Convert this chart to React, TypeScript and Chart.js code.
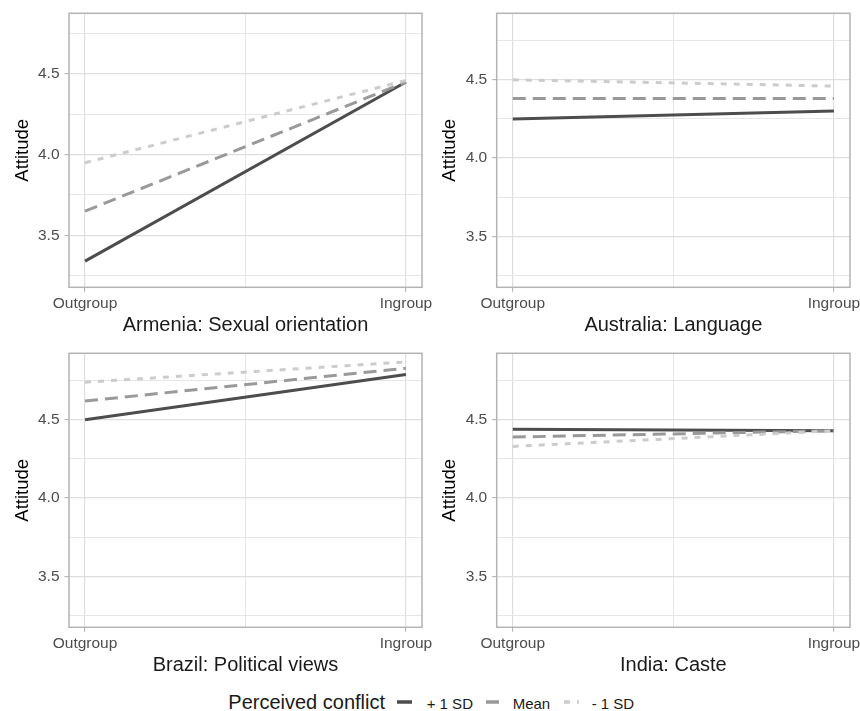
import React, { useEffect, useRef } from "react";
import { Chart, registerables } from "chart.js";

Chart.register(...registerables);

// ---------- data ----------
const categories = ["Outgroup", "Ingroup"];
const categoryPositions = [0, 1];
const seriesNames = ["+ 1 SD", "Mean", "- 1 SD"];
const legendTitle = "Perceived conflict";
const yAxisTitle = "Attitude";

const armeniaHigh = [3.34, 4.45];
const armeniaMean = [3.65, 4.45];
const armeniaLow = [3.95, 4.46];

const australiaHigh = [4.25, 4.3];
const australiaMean = [4.38, 4.38];
const australiaLow = [4.5, 4.46];

const brazilHigh = [4.5, 4.79];
const brazilMean = [4.62, 4.83];
const brazilLow = [4.74, 4.87];

const indiaHigh = [4.44, 4.43];
const indiaMean = [4.39, 4.43];
const indiaLow = [4.33, 4.43];

const yMajorTicks = [3.5, 4.0, 4.5];
const yMinorTicks = [3.25, 3.75, 4.25, 4.75];
const xMinorTicks = [0.5];

const armeniaRange = [3.178, 4.876];
const sharedRange = [3.174, 4.925];
const xRange = [-0.05, 1.05];

// ---------- styles ----------
const FONT = "'Liberation Sans', Arial, sans-serif";
const seriesColors = ["#4D4D4D", "#999999", "#CCCCCC"];
const seriesDashes: number[][] = [[], [13, 7], [6, 7]];
const GRID_MAJOR = "#DEDEDE";
const GRID_MINOR = "#E6E6E6";
const BORDER = "#B3B3B3";
const TICK_TEXT = "#4D4D4D";

Chart.defaults.font.family = FONT;

const panelBorder = {
  id: "panelBorder",
  afterDraw(chart: any) {
    const { ctx, chartArea: a } = chart;
    ctx.save();
    ctx.strokeStyle = BORDER;
    ctx.lineWidth = 1.5;
    ctx.strokeRect(a.left, a.top, a.right - a.left, a.bottom - a.top);
    ctx.restore();
  },
};

type PanelProps = {
  title: string;
  series: number[][];
  yRange: number[];
  left: number;
  top: number;
  width: number;
  height: number;
  areaLeft: number;
  areaRight: number;
  areaTop: number;
  areaBottom: number;
};

function Panel(p: PanelProps) {
  const ref = useRef<HTMLCanvasElement | null>(null);
  useEffect(() => {
    if (!ref.current) return;
    const isMajorY = (v: number) => yMajorTicks.some((t) => Math.abs(t - v) < 1e-9);
    const isMajorX = (v: number) => categoryPositions.some((t) => Math.abs(t - v) < 1e-9);
    const chart = new Chart(ref.current, {
      type: "line",
      data: {
        datasets: p.series.map((vals, i) => ({
          label: seriesNames[i],
          data: vals.map((v, j) => ({ x: categoryPositions[j], y: v })),
          borderColor: seriesColors[i],
          backgroundColor: seriesColors[i],
          borderWidth: 3,
          borderDash: seriesDashes[i],
          borderCapStyle: "butt",
          pointRadius: 0,
          pointHoverRadius: 0,
          fill: false,
          tension: 0,
          order: 3 - i,
        })),
      },
      options: {
        animation: false,
        responsive: false,
        events: [],
        layout: {
          padding: { left: 0, top: p.areaTop, right: p.width - p.areaRight, bottom: 0 },
        },
        plugins: {
          legend: { display: false },
          tooltip: { enabled: false },
          title: { display: false },
        },
        scales: {
          x: {
            type: "linear",
            min: xRange[0],
            max: xRange[1],
            afterBuildTicks: (s: any) => {
              s.ticks = [...categoryPositions, ...xMinorTicks]
                .sort((a, b) => a - b)
                .map((v) => ({ value: v }));
            },
            afterFit: (s: any) => {
              s.height = p.height - p.areaBottom;
              s.paddingLeft = 0;
              s.paddingRight = 0;
            },
            ticks: {
              autoSkip: false,
              maxRotation: 0,
              minRotation: 0,
              padding: 3,
              color: TICK_TEXT,
              font: { size: 15.5 },
              callback: (v: any) => {
                const i = categoryPositions.findIndex((t) => Math.abs(t - Number(v)) < 1e-9);
                return i >= 0 ? categories[i] : "";
              },
            },
            grid: {
              color: (c: any) => (c.tick && isMajorX(c.tick.value) ? GRID_MAJOR : GRID_MINOR),
              lineWidth: (c: any) => (c.tick && isMajorX(c.tick.value) ? 1.2 : 1),
              tickColor: (c: any) => (c.tick && isMajorX(c.tick.value) ? BORDER : "rgba(0,0,0,0)"),
              tickLength: 4.5,
              tickWidth: 1.1,
            },
            border: { display: false },
            title: {
              display: true,
              text: p.title,
              color: "#1A1A1A",
              font: { size: 20 },
              padding: { top: 0, bottom: 2.2 },
            },
          },
          y: {
            type: "linear",
            min: p.yRange[0],
            max: p.yRange[1],
            afterBuildTicks: (s: any) => {
              s.ticks = [...yMajorTicks, ...yMinorTicks]
                .sort((a, b) => a - b)
                .map((v) => ({ value: v }));
            },
            afterFit: (s: any) => {
              s.width = p.areaLeft;
              s.paddingTop = 0;
              s.paddingBottom = 0;
            },
            ticks: {
              autoSkip: false,
              padding: 5,
              color: TICK_TEXT,
              font: { size: 15.5 },
              callback: (v: any) => (isMajorY(Number(v)) ? Number(v).toFixed(1) : ""),
            },
            grid: {
              color: (c: any) => (c.tick && isMajorY(c.tick.value) ? GRID_MAJOR : GRID_MINOR),
              lineWidth: (c: any) => (c.tick && isMajorY(c.tick.value) ? 1.2 : 1),
              tickColor: (c: any) => (c.tick && isMajorY(c.tick.value) ? BORDER : "rgba(0,0,0,0)"),
              tickLength: 4.5,
              tickWidth: 1.1,
            },
            border: { display: false },
            title: {
              display: true,
              text: yAxisTitle,
              color: "#000000",
              font: { size: 18.5 },
              padding: { top: p.areaLeft - 57.6, bottom: 0 },
            },
          },
        },
      },
      plugins: [panelBorder],
    } as any);
    return () => chart.destroy();
  }, []);
  return (
    <canvas
      ref={ref}
      width={p.width}
      height={p.height}
      style={{ position: "absolute", left: p.left, top: p.top, width: p.width, height: p.height }}
    />
  );
}

function LegendKey({ x, color, dash }: { x: number; color: string; dash: number[] }) {
  return (
    <svg
      width={16}
      height={8}
      style={{ position: "absolute", left: x, top: 697.7, overflow: "visible" }}
    >
      <line
        x1={0}
        y1={4}
        x2={15}
        y2={4}
        stroke={color}
        strokeWidth={3.5}
        strokeDasharray={dash.length ? dash.join(" ") : undefined}
      />
    </svg>
  );
}

export default function App() {
  const leftGeom = { width: 460, height: 340, areaLeft: 69, areaRight: 422, areaTop: 13.3, areaBottom: 287.3 };
  const rightGeom = { width: 430, height: 340, areaLeft: 66.7, areaRight: 420, areaTop: 13.3, areaBottom: 287.3 };
  const labelStyle: React.CSSProperties = {
    position: "absolute",
    top: 695.6,
    fontFamily: FONT,
    fontSize: 15,
    lineHeight: "15px",
    color: "#1A1A1A",
    whiteSpace: "nowrap",
  };
  return (
    <div
      style={{
        position: "absolute",
        left: 0,
        top: 0,
        width: 860,
        height: 711,
        background: "#FFFFFF",
        overflow: "hidden",
      }}
    >
      <Panel title="Armenia: Sexual orientation" series={[armeniaHigh, armeniaMean, armeniaLow]} yRange={armeniaRange} left={0} top={0} {...leftGeom} />
      <Panel title="Brazil: Political views" series={[brazilHigh, brazilMean, brazilLow]} yRange={sharedRange} left={0} top={340} {...leftGeom} />
      <Panel title="Australia: Language" series={[australiaHigh, australiaMean, australiaLow]} yRange={sharedRange} left={430} top={0} {...rightGeom} />
      <Panel title="India: Caste" series={[indiaHigh, indiaMean, indiaLow]} yRange={sharedRange} left={430} top={340} {...rightGeom} />

      <div
        style={{
          position: "absolute",
          left: 228.3,
          top: 692.4,
          fontFamily: FONT,
          fontSize: 20,
          lineHeight: "20px",
          color: "#1A1A1A",
          whiteSpace: "nowrap",
        }}
      >
        {legendTitle}
      </div>
      <LegendKey x={397} color={seriesColors[0]} dash={seriesDashes[0]} />
      <div style={{ ...labelStyle, left: 426.7 }}>{seriesNames[0]}</div>
      <LegendKey x={486} color={seriesColors[1]} dash={seriesDashes[1]} />
      <div style={{ ...labelStyle, left: 512.7 }}>{seriesNames[1]}</div>
      <LegendKey x={564} color={seriesColors[2]} dash={seriesDashes[2]} />
      <div style={{ ...labelStyle, left: 591.7 }}>{seriesNames[2]}</div>
    </div>
  );
}
